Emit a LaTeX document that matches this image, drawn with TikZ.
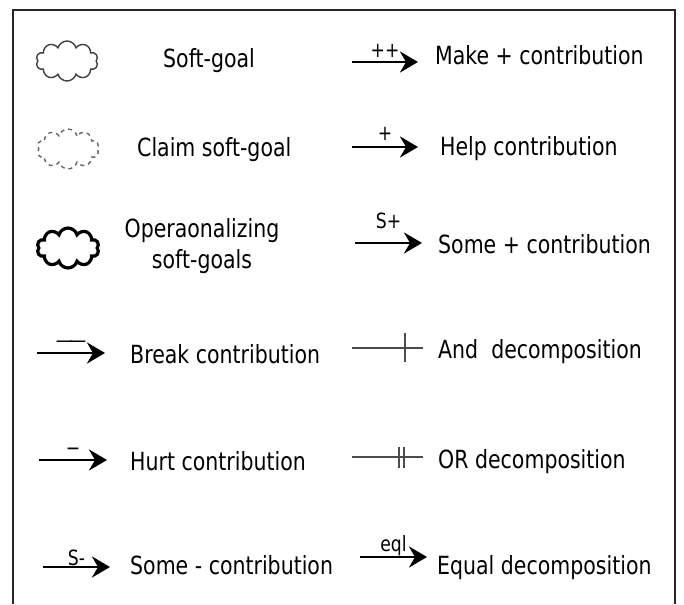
\documentclass[tikz,border=0pt]{standalone}
\usepackage{fontspec}
\setmainfont[FakeStretch=0.82]{DejaVu Sans}
\usetikzlibrary{shapes.symbols, arrows.meta}

\begin{document}
\begin{tikzpicture}[x=1pt, y=-1pt,
      txt/.style={font=\fontsize{25}{31}\selectfont, anchor=base west, inner sep=0pt},
      sml/.style={font=\fontsize{21}{24}\selectfont, inner sep=0pt},
      goal/.style={cloud, cloud puffs=10, cloud puff arc=150, aspect=1.6,
        minimum width=62pt, minimum height=40pt, inner sep=0pt},
      contrib/.style={line width=2.8pt, -{Stealth[length=18pt,width=21pt,inset=6pt]}},
      decomp/.style={line width=1.8pt, draw=black!70}]
  \useasboundingbox (0,0) rectangle (684,604);
  \draw[line width=1.5pt, black!85] (13,604) -- (13,10) -- (675,10) -- (675,604);

  \node[goal, draw=black!75, line width=1.4pt] (sg) at (67,61) {};
  \node[goal, draw=black!60, line width=1.4pt, dash pattern=on 4pt off 4pt] (csg) at (68,149) {};
  \node[goal, draw=black, line width=3.2pt] (osg) at (68,248) {};
  \node[txt] (sgt) at (163,68) {Soft-goal};
  \node[txt] (csgt) at (137,157) {Claim soft-goal};
  \node[txt, anchor=center, align=center] (osgt) at (202,246) {Operaonalizing\\soft-goals};

  \coordinate (brk-a) at (37,353);  \coordinate (brk-b) at (105,353);
  \coordinate (hrt-a) at (39,460);  \coordinate (hrt-b) at (107,460);
  \coordinate (smn-a) at (43,567);  \coordinate (smn-b) at (110,567);
  \draw[contrib] (brk-a) -- node[sml, above=4pt]{—\kern-4pt—} (brk-b);
  \draw[contrib] (hrt-a) -- node[sml, above=3pt]{−} (hrt-b);
  \draw[contrib] (smn-a) -- node[sml, above=0pt]{S-} (smn-b);
  \node[txt] (brkt) at (130,363) {Break contribution};
  \node[txt] (hrtt) at (130,470) {Hurt contribution};
  \node[txt] (smnt) at (130,574) {Some - contribution};

  \coordinate (mk-a) at (352,62);   \coordinate (mk-b) at (418,62);
  \coordinate (hlp-a) at (352,147); \coordinate (hlp-b) at (418,147);
  \coordinate (smp-a) at (355,243); \coordinate (smp-b) at (422,243);
  \coordinate (eql-a) at (360,557); \coordinate (eql-b) at (427,557);
  \draw[contrib] (mk-a) -- node[sml, above=3pt]{++} (mk-b);
  \draw[contrib] (hlp-a) -- node[sml, above=5pt]{+} (hlp-b);
  \draw[contrib] (smp-a) -- node[sml, above=13pt]{S+} (smp-b);
  \draw[contrib] (eql-a) -- node[sml, above=0pt]{eql} (eql-b);
  \node[txt] (mkt) at (435,65) {Make + contribution};
  \node[txt] (hlpt) at (440,156) {Help contribution};
  \node[txt] (smpt) at (438,253) {Some + contribution};
  \node[txt] (eqlt) at (437,574) {Equal decomposition};

  \coordinate (and-a) at (352,348); \coordinate (and-b) at (423,348);
  \coordinate (and-t) at (405,348);
  \coordinate (or-a) at (352,457);  \coordinate (or-b) at (423,457);
  \coordinate (or-t) at (401.5,457);
  \draw[decomp] (and-a) -- (and-b);
  \draw[decomp] ([yshift=15pt]and-t) -- ([yshift=-14pt]and-t);
  \draw[decomp] (or-a) -- (or-b);
  \draw[decomp] ([xshift=-2.5pt,yshift=10pt]or-t) -- ([xshift=-2.5pt,yshift=-11pt]or-t);
  \draw[decomp] ([xshift=2.5pt,yshift=10pt]or-t) -- ([xshift=2.5pt,yshift=-11pt]or-t);
  \node[txt] (andt) at (438,358) {And~ decomposition};
  \node[txt] (ort) at (438,468) {OR decomposition};
\end{tikzpicture}
\end{document}
